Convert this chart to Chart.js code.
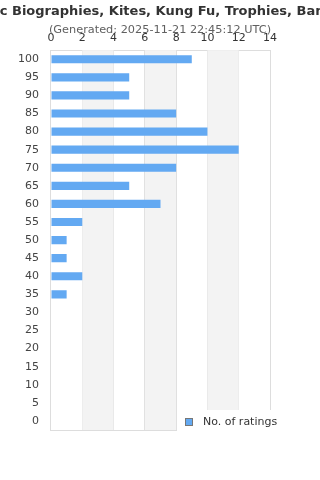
<!DOCTYPE html>
<html>
<head>
<meta charset="utf-8">
<script src="https://cdn.jsdelivr.net/npm/chart.js@4.4.1/dist/chart.umd.min.js"></script>
<style>
  html, body { margin: 0; padding: 0; background: #fff; }
  #wrap { position: relative; width: 320px; height: 480px; }
</style>
</head>
<body>
<div id="wrap"><canvas id="chart"></canvas></div>
<script>
// Datos
const titleText = 'Comic Biographies, Kites, Kung Fu, Trophies, Banners';
const subtitleText = '(Generated: 2025-11-21 22:45:12 UTC)';
const ratingLabels = ['100', '95', '90', '85', '80', '75', '70', '65', '60', '55', '50',
                      '45', '40', '35', '30', '25', '20', '15', '10', '5', '0'];
const ratingCounts = [9, 5, 5, 8, 10, 12, 8, 5, 7, 2, 1, 1, 2, 1, 0, 0, 0, 0, 0, 0, 0];
const seriesName = 'No. of ratings';
const xMax = 14;
const xStep = 2;

const barColor = '#63a9f2';
const bandColor = '#f3f3f3';
const lineColor = '#dddddd';
const font = 'DejaVu Sans';

/**
 * Bandas grises alternas y marco del area de trazado
 */
const bandsPlugin = {
    id: 'bands',
    beforeDatasetsDraw(chart) {
        const { ctx, chartArea: a, scales: { x } } = chart;
        ctx.save();
        ctx.fillStyle = bandColor;
        for (let v = xStep; v < xMax; v += xStep * 2) {
            const x0 = x.getPixelForValue(v);
            const x1 = x.getPixelForValue(v + xStep);
            ctx.fillRect(x0, a.top, x1 - x0, a.bottom - a.top);
        }
        ctx.strokeStyle = lineColor;
        ctx.lineWidth = 1;
        ctx.beginPath();
        ctx.moveTo(a.left, Math.round(a.bottom) + 0.5);
        ctx.lineTo(a.right, Math.round(a.bottom) + 0.5);
        ctx.stroke();
        ctx.restore();
    }
};

/**
 * Titulo, subtitulo y leyenda dibujados a mano (sin compresion de texto)
 */
const textPlugin = {
    id: 'texts',
    afterDraw(chart) {
        const { ctx, width } = chart;
        ctx.save();
        ctx.textAlign = 'center';
        ctx.textBaseline = 'middle';
        ctx.fillStyle = '#333333';
        ctx.font = 'bold 13px "' + font + '"';
        ctx.fillText(titleText, width / 2, 12);
        ctx.fillStyle = '#606060';
        ctx.font = '11.3px "' + font + '"';
        ctx.fillText(subtitleText, width / 2, 30);

        // leyenda con fondo blanco encima del area
        ctx.fillStyle = '#ffffff';
        ctx.fillRect(177, 410, 120, 26);
        ctx.fillStyle = barColor;
        ctx.fillRect(185.5, 418.5, 7, 7);
        ctx.strokeStyle = '#777777';
        ctx.lineWidth = 1;
        ctx.strokeRect(185.5, 418.5, 7, 7);
        ctx.textAlign = 'left';
        ctx.fillStyle = '#333333';
        ctx.font = '11px "' + font + '"';
        ctx.fillText(chart.data.datasets[0].label, 203, 422.5);
        ctx.restore();
    }
};

new Chart(document.getElementById('chart'), {
    type: 'bar',
    data: {
        labels: ratingLabels,
        datasets: [{
            label: seriesName,
            data: ratingCounts,
            backgroundColor: barColor,
            borderWidth: 0,
            categoryPercentage: 1,
            barPercentage: 0.45
        }]
    },
    options: {
        indexAxis: 'y',
        responsive: true,
        maintainAspectRatio: false,
        animation: false,
        layout: {
            padding: { top: 27, left: 6, right: 50, bottom: 50 }
        },
        plugins: {
            legend: { display: false },
            title: { display: false },
            tooltip: { enabled: false }
        },
        scales: {
            x: {
                position: 'top',
                min: 0,
                max: xMax,
                ticks: {
                    stepSize: xStep,
                    padding: 5,
                    color: '#333333',
                    font: { family: font, size: 11 }
                },
                grid: { color: lineColor, drawTicks: false },
                border: { color: lineColor }
            },
            y: {
                ticks: {
                    padding: 12,
                    color: '#444444',
                    font: { family: font, size: 11 }
                },
                grid: { display: false, drawTicks: false },
                border: { color: lineColor }
            }
        }
    },
    plugins: [bandsPlugin, textPlugin]
});
</script>
</body>
</html>
